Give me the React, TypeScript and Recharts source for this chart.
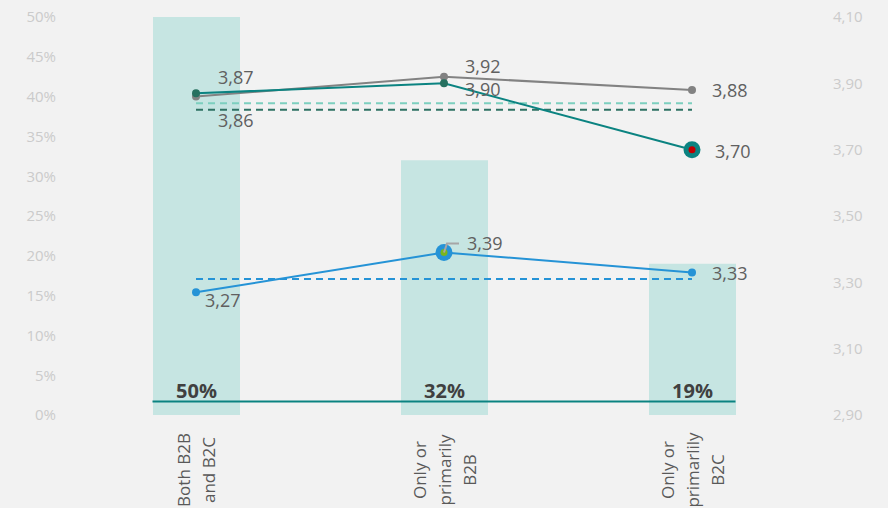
import React from "react";
import {
  Bar,
  ComposedChart,
  LabelList,
  Line,
  ReferenceLine,
  XAxis,
  YAxis,
} from "recharts";

// categories and values
const categories = ["Both B2B\nand B2C", "Only or\nprimarily\nB2B", "Only or\nprimarlily\nB2C"];
const shareValues = [50, 32, 19];
const tealScores = [3.87, 3.9, 3.7];
const greyScores = [3.86, 3.92, 3.88];
const blueScores = [3.27, 3.39, 3.33];
const lightAverage = 3.84;
const tealAverage = 3.82;
const blueAverage = 3.31;
const baseLineValue = 1.7;
const leftTicks = [0, 5, 10, 15, 20, 25, 30, 35, 40, 45, 50];
const rightTicks = [2.9, 3.1, 3.3, 3.5, 3.7, 3.9, 4.1];

// label offsets (dx, dy) from the point, styling only
const tealLabelOffset = [[22, -16], [21, 6], [23, 1]];
const greyLabelOffset = [[22, 23], [21, -11], [20, 0]];
const blueLabelOffset = [[9, 8], [23, -9], [20, 1]];

const data = categories.map((name, i) => ({
  name,
  share: shareValues[i],
  teal: tealScores[i],
  grey: greyScores[i],
  blue: blueScores[i],
}));

const FONT = "'Open Sans', 'Noto Sans', sans-serif";
const BAR_SIZE = 87;
const TEAL = "#0b8381";
const TEAL_DOT = "#26705f";
const GREY = "#828282";
const BLUE = "#2593d6";

const fmt = (v: number) => v.toFixed(2).replace(".", ",");

function CategoryTick({ x, y, payload }: any) {
  const lines = String(payload.value).split("\n");
  const gap = 25;
  return (
    <g>
      {lines.map((line: string, i: number) => {
        const cx = x + (i - (lines.length - 1) / 2) * gap;
        const cy = y + 55;
        return (
          <text
            key={i}
            x={0}
            y={0}
            transform={`translate(${cx}, ${cy}) rotate(-90)`}
            textAnchor="middle"
            dominantBaseline="central"
            fontFamily={FONT}
            fontSize={17}
            fill="#595959"
          >
            {line}
          </text>
        );
      })}
    </g>
  );
}

function scoreLabel(offsets: number[][], leaderIndex = -1) {
  return (props: any) => {
    const { x, y, value, index } = props;
    const [dx, dy] = offsets[index];
    return (
      <g>
        {index === leaderIndex && (
          <polyline
            points={`${x},${y} ${x + 3},${y + dy} ${x + 15},${y + dy}`}
            fill="none"
            stroke="#a6a6a6"
            strokeWidth={2}
          />
        )}
        <text
          x={x + dx}
          y={y + dy}
          dominantBaseline="central"
          fontFamily={FONT}
          fontSize={18}
          fill="#606060"
        >
          {fmt(value)}
        </text>
      </g>
    );
  };
}

function shareLabel(props: any) {
  const { x, y, width, height, value } = props;
  return (
    <text
      x={x + width / 2}
      y={y + height - 25}
      textAnchor="middle"
      dominantBaseline="central"
      fontFamily={FONT}
      fontSize={20}
      fontWeight={700}
      fill="#404040"
    >
      {value}%
    </text>
  );
}

function plainDot(color: string) {
  return (props: any) => <circle key={props.index} cx={props.cx} cy={props.cy} r={4} fill={color} />;
}

function highlightDot(color: string, inner: string, at: number) {
  return (props: any) => {
    const { cx, cy, index } = props;
    if (index === at) {
      return (
        <g key={index}>
          <circle cx={cx} cy={cy} r={8.5} fill={color} />
          <circle cx={cx} cy={cy} r={3.5} fill={inner} />
        </g>
      );
    }
    return <circle key={index} cx={cx} cy={cy} r={4} fill={index === at ? color : color === TEAL ? TEAL_DOT : color} />;
  };
}

function BaseLine(props: any) {
  const { x1, x2, y1, y2 } = props;
  return (
    <line
      x1={x1 - BAR_SIZE / 2}
      x2={x2 + BAR_SIZE / 2}
      y1={y1}
      y2={y2}
      stroke={TEAL}
      strokeWidth={2}
    />
  );
}

export default function App() {
  const first = categories[0];
  const last = categories[categories.length - 1];
  return (
    <div
      style={{
        position: "absolute",
        left: 0,
        top: 0,
        width: 888,
        height: 508,
        background: "#f2f2f2",
        overflow: "hidden",
      }}
    >
      <ComposedChart
        width={888}
        height={508}
        data={data}
        margin={{ top: 17, right: 0, bottom: 0, left: 0 }}
      >
        <XAxis
          dataKey="name"
          axisLine={false}
          tickLine={false}
          tickSize={0}
          tickMargin={0}
          height={93}
          interval={0}
          tick={<CategoryTick />}
        />
        <YAxis
          yAxisId="left"
          orientation="left"
          domain={[0, 50]}
          ticks={leftTicks}
          tickFormatter={(v: number) => `${v}%`}
          axisLine={false}
          tickLine={false}
          tickSize={0}
          tickMargin={16}
          width={72}
          tick={{ fill: "#cbcbcb", fontSize: 15, fontFamily: FONT }}
        />
        <YAxis
          yAxisId="right"
          orientation="right"
          domain={[2.9, 4.1]}
          ticks={rightTicks}
          tickFormatter={fmt}
          axisLine={false}
          tickLine={false}
          tickSize={0}
          tickMargin={17}
          width={72}
          tick={{ fill: "#cbcbcb", fontSize: 15, fontFamily: FONT, textAnchor: "start" }}
        />
        <Bar
          yAxisId="left"
          dataKey="share"
          fill="#c6e5e2"
          barSize={BAR_SIZE}
          isAnimationActive={false}
        >
          <LabelList dataKey="share" content={shareLabel} />
        </Bar>
        <ReferenceLine
          yAxisId="left"
          segment={[
            { x: first, y: baseLineValue },
            { x: last, y: baseLineValue },
          ]}
          shape={BaseLine}
        />
        <ReferenceLine
          yAxisId="right"
          segment={[
            { x: first, y: lightAverage },
            { x: last, y: lightAverage },
          ]}
          stroke="#7ccfbf"
          strokeWidth={2}
          strokeDasharray="7 5"
        />
        <ReferenceLine
          yAxisId="right"
          segment={[
            { x: first, y: tealAverage },
            { x: last, y: tealAverage },
          ]}
          stroke="#2e7163"
          strokeWidth={2}
          strokeDasharray="7 5"
        />
        <ReferenceLine
          yAxisId="right"
          segment={[
            { x: first, y: blueAverage },
            { x: last, y: blueAverage },
          ]}
          stroke={BLUE}
          strokeWidth={2}
          strokeDasharray="7 5"
        />
        <Line
          yAxisId="right"
          dataKey="grey"
          stroke={GREY}
          strokeWidth={2}
          dot={plainDot(GREY)}
          activeDot={false}
          isAnimationActive={false}
        >
          <LabelList dataKey="grey" content={scoreLabel(greyLabelOffset)} />
        </Line>
        <Line
          yAxisId="right"
          dataKey="teal"
          stroke={TEAL}
          strokeWidth={2}
          dot={highlightDot(TEAL, "#c00000", 2)}
          activeDot={false}
          isAnimationActive={false}
        >
          <LabelList dataKey="teal" content={scoreLabel(tealLabelOffset)} />
        </Line>
        <Line
          yAxisId="right"
          dataKey="blue"
          stroke={BLUE}
          strokeWidth={2}
          dot={highlightDot(BLUE, "#7ab51d", 1)}
          activeDot={false}
          isAnimationActive={false}
        >
          <LabelList dataKey="blue" content={scoreLabel(blueLabelOffset, 1)} />
        </Line>
      </ComposedChart>
    </div>
  );
}
